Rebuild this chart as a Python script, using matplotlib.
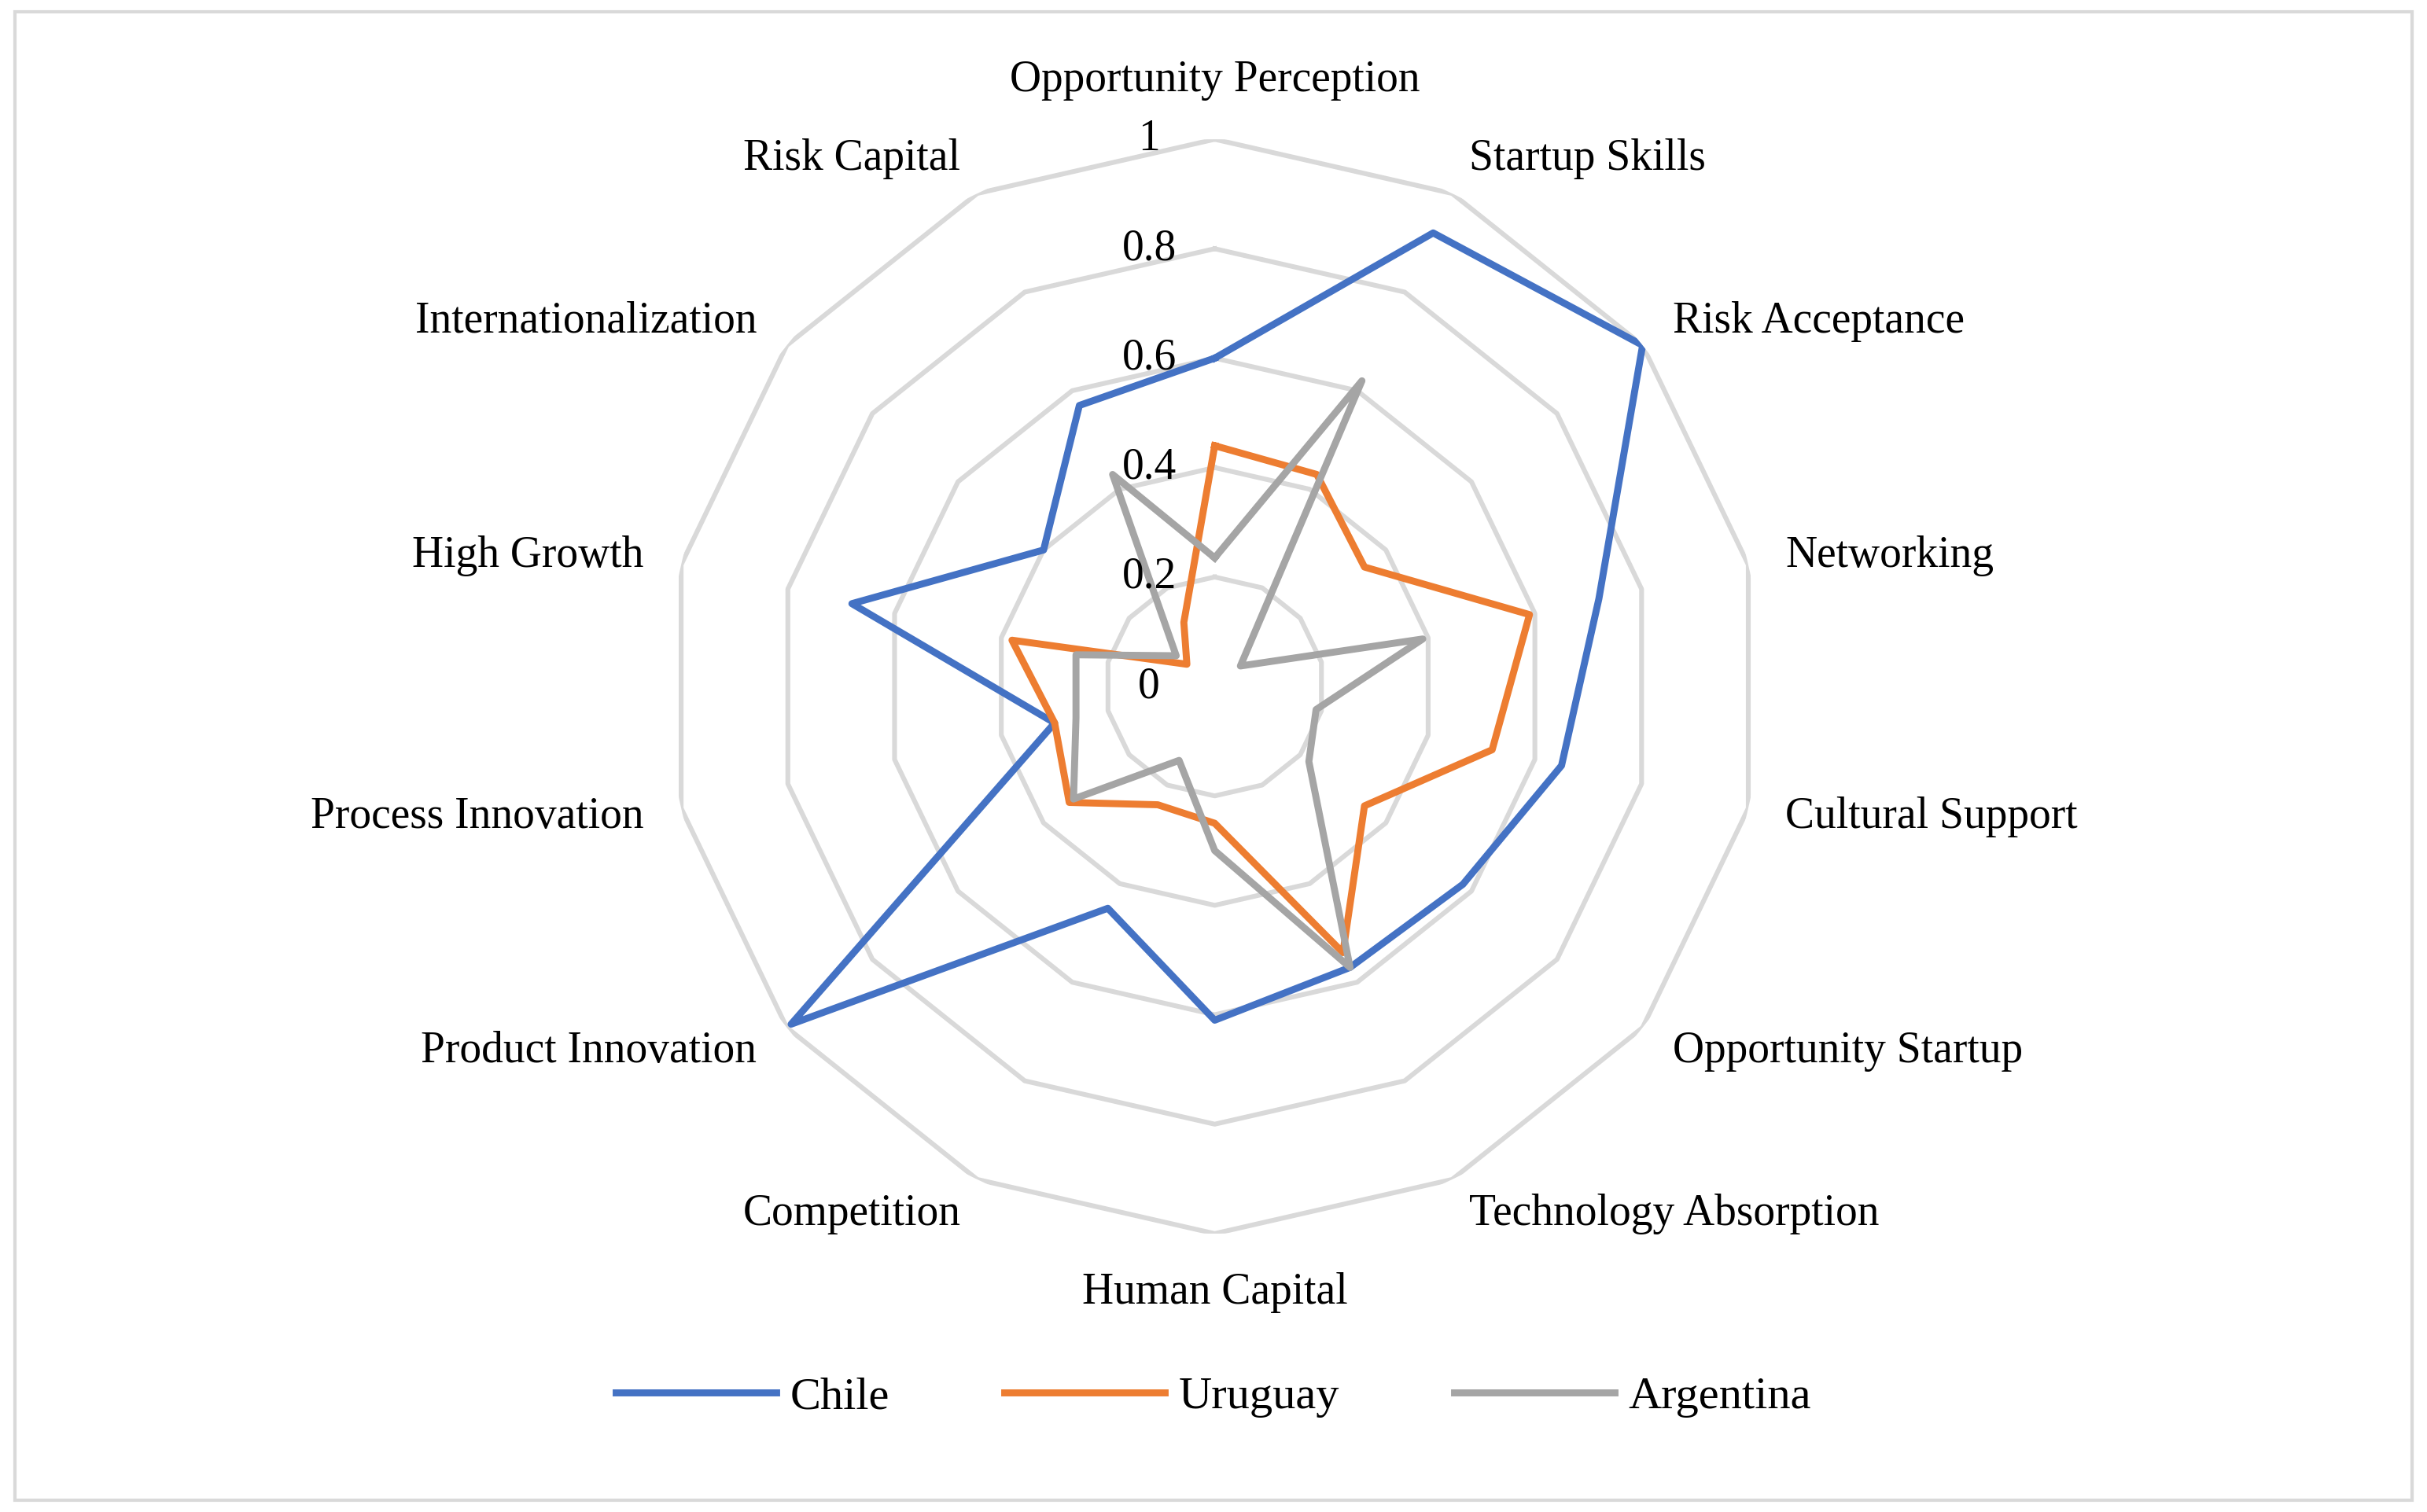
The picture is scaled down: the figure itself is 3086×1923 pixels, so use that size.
import matplotlib.pyplot as plt
import numpy as np
from matplotlib.patches import Rectangle

categories = ["Opportunity Perception", "Startup Skills", "Risk Acceptance", "Networking",
              "Cultural Support", "Opportunity Startup", "Technology Absorption", "Human Capital",
              "Competition", "Product Innovation", "Process Innovation", "High Growth",
              "Internationalization", "Risk Capital"]
chile = [0.60, 0.92, 1.00, 0.72, 0.65, 0.58, 0.57, 0.61, 0.45, 0.99, 0.30, 0.68, 0.40, 0.57]
uruguay = [0.44, 0.43, 0.35, 0.59, 0.52, 0.35, 0.54, 0.25, 0.24, 0.34, 0.30, 0.38, 0.065, 0.13]
argentina = [0.235, 0.62, 0.06, 0.39, 0.19, 0.22, 0.57, 0.30, 0.15, 0.33, 0.26, 0.26, 0.09, 0.43]
r_ticks = [0, 0.2, 0.4, 0.6, 0.8, 1.0]
r_labels = ["0", "0.2", "0.4", "0.6", "0.8", "1"]

plt.rcParams["font.family"] = ["Liberation Serif", "DejaVu Serif"]
fig = plt.figure(figsize=(15.43, 9.615), dpi=200)
fig.patches.append(Rectangle((0.006, 0.008), 0.988, 0.984, transform=fig.transFigure,
                             fill=False, edgecolor="#d9d9d9", linewidth=1.5))
ax = fig.add_axes([0.275, 0.184, 0.451, 0.724], projection="polar")
ax.set_theta_zero_location("N")
ax.set_theta_direction(-1)
n = len(categories)
angles = np.arange(n) * 2 * np.pi / n
closed = np.append(angles, angles[0])

# polygon grid, no spokes (Excel style)
for r in r_ticks[1:]:
    ax.plot(closed, [r] * (n + 1), color="#d9d9d9", linewidth=2.2, zorder=1)

for vals, col, lab in [(chile, "#4472c4", "Chile"), (uruguay, "#ed7d31", "Uruguay"),
                       (argentina, "#a5a5a5", "Argentina")]:
    ax.plot(closed, vals + vals[:1], color=col, linewidth=3.2, label=lab, zorder=3)

for r, lab in zip(r_ticks, r_labels):
    ax.annotate(lab, (0, r), xytext=(-30, 0), textcoords="offset points",
                ha="center", va="center", fontsize=20, zorder=4)

for a, lab in zip(angles, categories):
    s = np.sin(a)
    c = np.cos(a)
    ha = "center" if abs(s) < 0.1 else ("left" if s > 0 else "right")
    va = "center"
    if abs(s) < 0.1:
        va = "bottom" if c > 0 else "top"
    ax.text(a, 1.07, lab, ha=ha, va=va, fontsize=20)

ax.set_ylim(0, 1)
ax.set_xticks([])
ax.set_yticks([])
ax.grid(False)
ax.spines["polar"].set_visible(False)
ax.patch.set_alpha(0)

fig.legend(loc="lower center", bbox_to_anchor=(0.5, 0.035), ncol=3, frameon=False,
           fontsize=21, handlelength=3.5, handletextpad=0.3, columnspacing=2.5)
fig.savefig("out.png", dpi=200)
